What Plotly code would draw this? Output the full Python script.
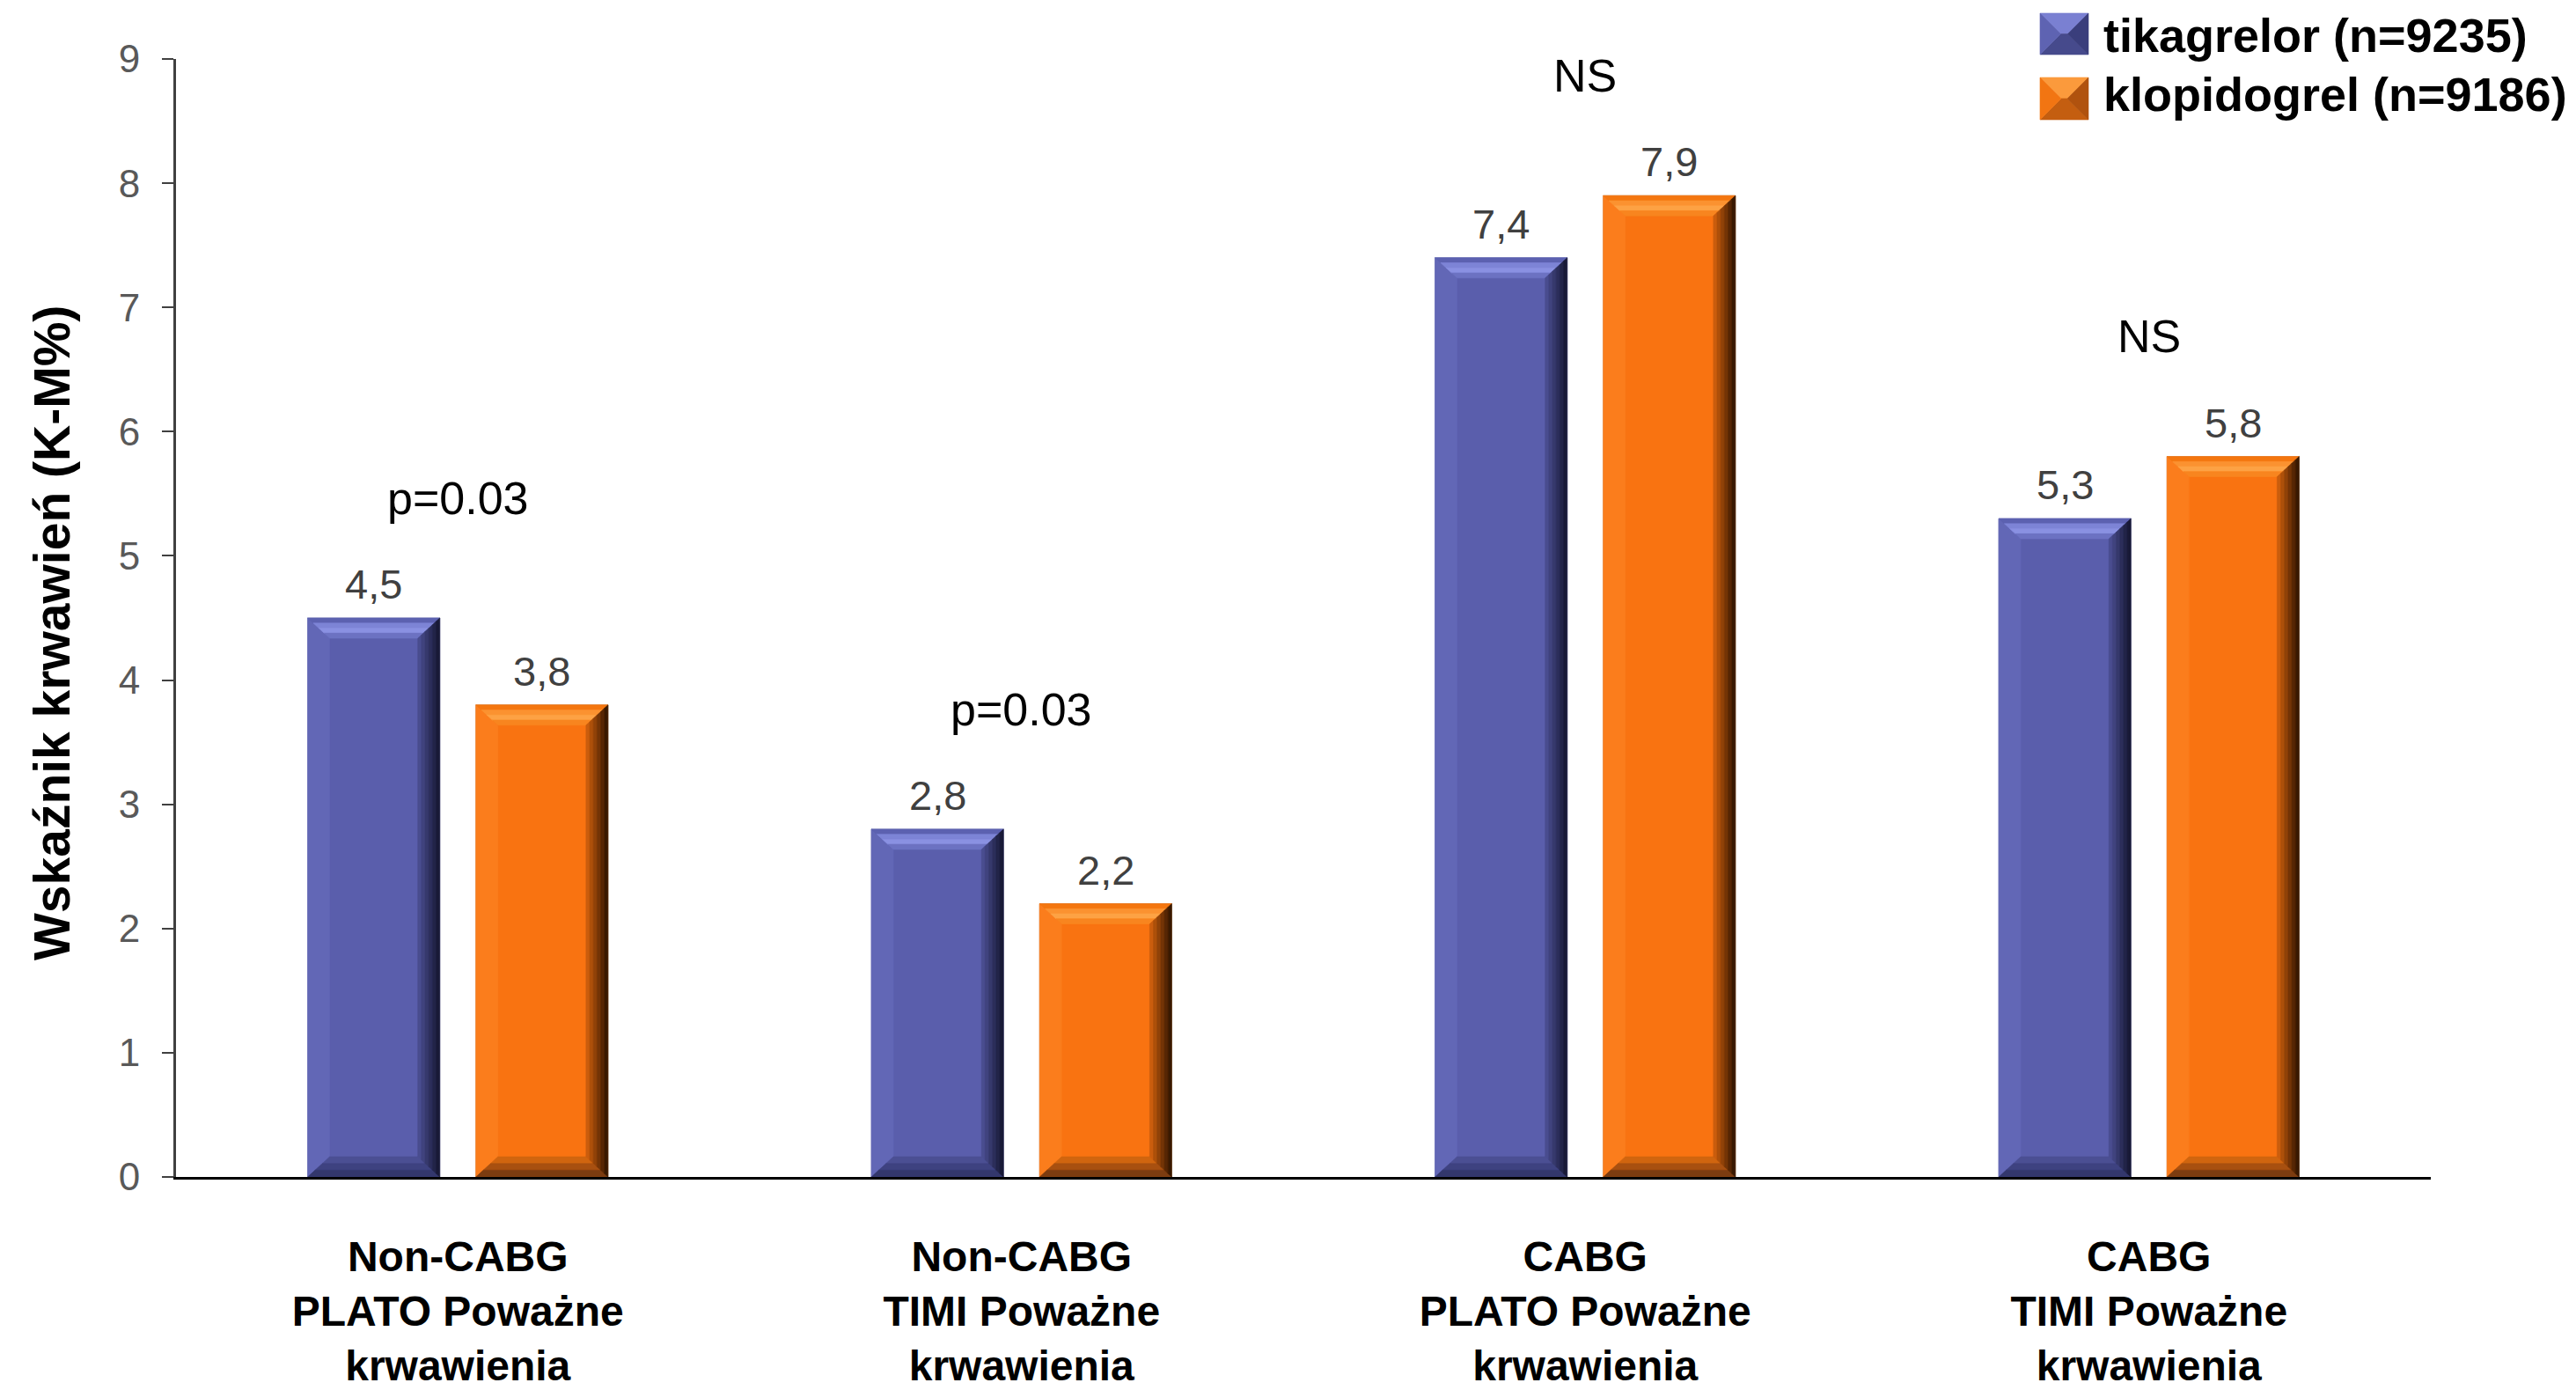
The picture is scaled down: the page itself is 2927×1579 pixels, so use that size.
import plotly.graph_objects as go

# ---- data -----------------------------------------------------------------
categories = [
    "Non-CABG<br>PLATO Poważne<br>krwawienia",
    "Non-CABG<br>TIMI Poważne<br>krwawienia",
    "CABG<br>PLATO Poważne<br>krwawienia",
    "CABG<br>TIMI Poważne<br>krwawienia",
]
series_names = ["tikagrelor (n=9235)", "klopidogrel (n=9186)"]
tikagrelor = [4.5, 2.8, 7.4, 5.3]
klopidogrel = [3.8, 2.2, 7.9, 5.8]
significance = ["p=0.03", "p=0.03", "NS", "NS"]
y_ticks = [0, 1, 2, 3, 4, 5, 6, 7, 8, 9]
y_title = "Wskaźnik krwawień (K-M%)"

# ---- styling --------------------------------------------------------------
W, H = 2927, 1579
M_L, M_R, M_T, M_B = 200, 165, 67, 242
PLOT_W = W - M_L - M_R
PLOT_H = H - M_T - M_B
Y_MAX = 9
X_MIN, X_MAX = -0.5, 3.5

FONT = "Liberation Sans, Arial, sans-serif"

palettes = [
    dict(main="#5A5EAC", top=["#5C61B0", "#7D84D6", "#8A91E2", "#6C72C2"],
         left="#6267B6", right_from="#4E5298", right_to="#14152E",
         bottom=["#4B4F93", "#3E4280", "#33376C"], edge="#9A9CC8"),
    dict(main="#F97311", top=["#F4760F", "#FB9230", "#FDA244", "#F8851F"],
         left="#FB7D1C", right_from="#D9640E", right_to="#2A1200",
         bottom=["#D0650F", "#A85010", "#7C3C10"], edge="#C8A080"),
]
series_values = [tikagrelor, klopidogrel]

BAR_W = 0.2344
offsets = [-0.2664, 0.0320]

# bevel size in data units (~25 px horizontally, ~23 px vertically)
px_per_x = PLOT_W / (X_MAX - X_MIN)
px_per_y = PLOT_H / Y_MAX
BX = 25 / px_per_x
BY = 23 / px_per_y


def poly(points, color):
    d = "M " + " L ".join(f"{x:.5f},{y:.5f}" for x, y in points) + " Z"
    return dict(type="path", xref="x", yref="y", path=d,
                fillcolor=color, line=dict(color=color, width=0.6),
                layer="above")


def mix(c1, c2, t):
    a = [int(c1[i:i + 2], 16) for i in (1, 3, 5)]
    b = [int(c2[i:i + 2], 16) for i in (1, 3, 5)]
    return "#" + "".join(f"{round(a[k] + (b[k] - a[k]) * t):02X}" for k in range(3))


def bevel_shapes(xl, xr, v, pal):
    out = []
    # left edge
    out.append(poly([(xl, v), (xl + BX, v - BY), (xl + BX, BY), (xl, 0)], pal["left"]))
    # bottom bevel, stacked bands
    nb = len(pal["bottom"])
    for k, col in enumerate(pal["bottom"]):
        y_hi = BY * (1 - k / nb)
        y_lo = BY * (1 - (k + 1) / nb)
        out.append(poly([(xl + BX * y_hi / BY, y_hi), (xr - BX * y_hi / BY, y_hi),
                         (xr - BX * y_lo / BY, y_lo), (xl + BX * y_lo / BY, y_lo)], col))
    # top bevel, stacked bands from the upper edge down
    nt = len(pal["top"])
    for k, col in enumerate(pal["top"]):
        d0 = BY * k / nt
        d1 = BY * (k + 1) / nt
        out.append(poly([(xl + BX * d0 / BY, v - d0), (xr - BX * d0 / BY, v - d0),
                         (xr - BX * d1 / BY, v - d1), (xl + BX * d1 / BY, v - d1)], col))
    # right edge, darkening toward the outside
    ns = 6
    for k in range(ns):
        xa = xr - BX + BX * k / ns
        xb = xr - BX + BX * (k + 1) / ns
        ta = (xr - xa) / BX
        tb = (xr - xb) / BX
        col = mix(pal["right_from"], pal["right_to"], (k + 0.5) / ns)
        out.append(poly([(xa, v - BY * ta), (xb, v - BY * tb),
                         (xb, BY * tb), (xa, BY * ta)], col))
    return out


fig = go.Figure()
shapes = []
annotations = []

positions = list(range(len(categories)))

for s, (name, vals, pal, off) in enumerate(zip(series_names, series_values, palettes, offsets)):
    fig.add_trace(go.Bar(
        x=positions, y=vals, name=name,
        width=BAR_W, offset=off,
        marker=dict(color=pal["main"], line=dict(color=pal["edge"], width=1)),
        showlegend=False, hoverinfo="x+y",
    ))
    for p, v in zip(positions, vals):
        xl = p + off
        xr = xl + BAR_W
        shapes.extend(bevel_shapes(xl, xr, v, pal))
        annotations.append(dict(
            x=(xl + xr) / 2, y=v, xref="x", yref="y",
            text=f"{v:.1f}".replace(".", ","), showarrow=False,
            yanchor="bottom", yshift=10,
            font=dict(family=FONT, size=47, color="#404040"),
        ))

# significance labels above each group
for p, label, a, b in zip(positions, significance, tikagrelor, klopidogrel):
    annotations.append(dict(
        x=p, y=max(a, b) + 0.83, xref="x", yref="y",
        text=label, showarrow=False, yanchor="bottom", yshift=-12,
        font=dict(family=FONT, size=52, color="#000000"),
    ))

# y-axis title
annotations.append(dict(
    x=0, y=0.5, xref="paper", yref="paper", xshift=-141, yshift=-17,
    text=y_title, textangle=-90, showarrow=False,
    xanchor="center", yanchor="middle",
    font=dict(family=FONT, size=57, color="#000000", weight="bold"),
))


# ---- custom legend with bevelled swatches --------------------------------
def px_x(px):
    return (px - M_L) / PLOT_W


def px_y(py):
    return (H - M_B - py) / PLOT_H


def tri(pts, color):
    d = "M " + " L ".join(f"{px_x(x):.5f},{px_y(y):.5f}" for x, y in pts) + " Z"
    return dict(type="path", xref="paper", yref="paper", path=d,
                fillcolor=color, line=dict(color=color, width=0.6), layer="above")


legend_rows = [(15, 62), (88, 136)]
legend_text_y = [40, 107]
swatch_x0, swatch_x1 = 2318, 2373
swatch_cols = [
    dict(top="#7A80D2", left="#5E63B2", right="#3A3E7C", bottom="#464A8C", mid="#5A5EAC"),
    dict(top="#FB9A3C", left="#F27512", right="#B0520E", bottom="#C45E10", mid="#F97311"),
]
for (y0, y1), ty, name, sc in zip(legend_rows, legend_text_y, series_names, swatch_cols):
    x0, x1 = swatch_x0, swatch_x1
    cy = (y0 + y1) / 2
    inset = (y1 - y0) / 2
    ca = (x0 + inset, cy)
    cb = (x1 - inset, cy)
    shapes.append(tri([(x0, y0), (x1, y0), cb, ca], sc["top"]))
    shapes.append(tri([(x0, y1), (x1, y1), cb, ca], sc["bottom"]))
    shapes.append(tri([(x0, y0), ca, (x0, y1)], sc["left"]))
    shapes.append(tri([(x1, y0), cb, (x1, y1)], sc["right"]))
    annotations.append(dict(
        x=px_x(2388), y=px_y(ty), xref="paper", yref="paper",
        text=name, showarrow=False, xanchor="left", yanchor="middle",
        font=dict(family=FONT, size=54, color="#000000", weight="bold"),
    ))

fig.update_layout(
    width=W, height=H, autosize=False,
    margin=dict(l=M_L, r=M_R, t=M_T, b=M_B, pad=0),
    paper_bgcolor="white", plot_bgcolor="white",
    separators=", ",
    showlegend=False,
    shapes=shapes, annotations=annotations,
    xaxis=dict(
        range=[X_MIN, X_MAX], tickmode="array", tickvals=positions, ticktext=categories,
        showline=True, linecolor="#000000", linewidth=3, ticks="",
        showgrid=False, zeroline=False, ticklabelstandoff=46, automargin=False,
        tickfont=dict(family=FONT, size=48, color="#000000", weight="bold"),
    ),
    yaxis=dict(
        range=[0, Y_MAX], tickmode="array", tickvals=y_ticks,
        showline=True, linecolor="#404040", linewidth=3,
        ticks="outside", ticklen=13, tickwidth=2, tickcolor="#404040",
        showgrid=False, zeroline=False, ticklabelstandoff=16, automargin=False,
        tickfont=dict(family=FONT, size=44, color="#595959"),
    ),
)

fig.write_html("out.html")
